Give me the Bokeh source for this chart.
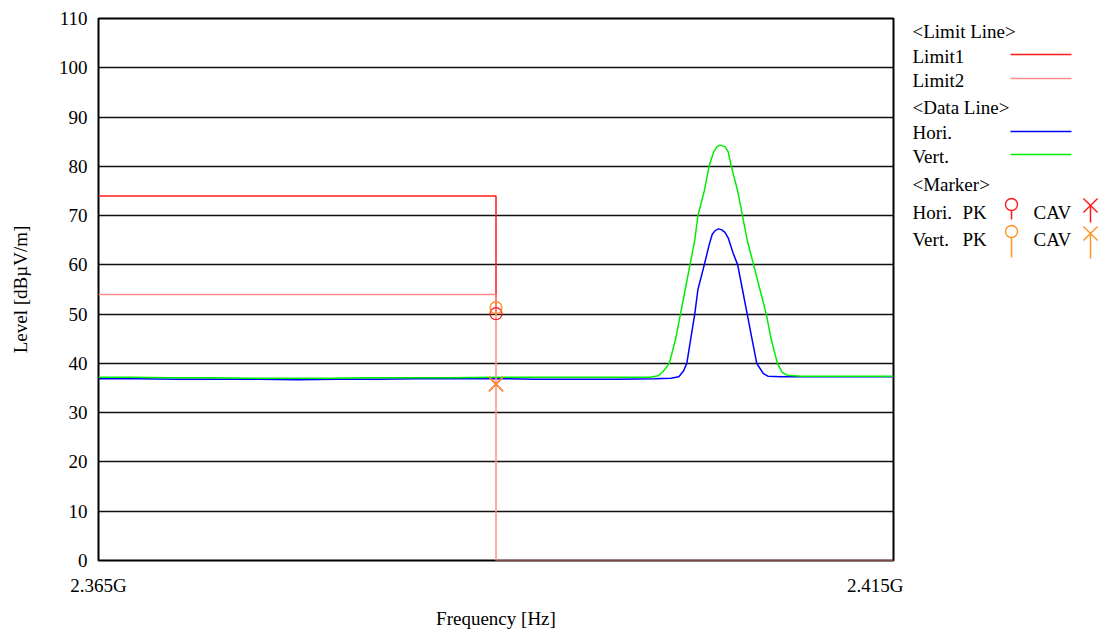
from bokeh.plotting import figure
from bokeh.layouts import row
from bokeh.models import FixedTicker, Range1d
from bokeh.core.properties import value
from bokeh.embed import file_html
from bokeh.resources import INLINE

# ---------------- data ----------------
y_ticks = [0, 10, 20, 30, 40, 50, 60, 70, 80, 90, 100, 110]
x_ticks = [2365, 2415]
x_tick_labels = ["2.365G", "2.415G"]

limit1_freq = [2365.0, 2390.0, 2390.0]
limit1_level = [74.0, 74.0, 50.0]
limit2_freq = [2365.0, 2390.0, 2390.0, 2415.0]
limit2_level = [54.0, 54.0, 0.0, 0.0]

vert_freq = [2365.0, 2367.0, 2369.5, 2372.0, 2374.6, 2377.0, 2379.5, 2382.0, 2384.5, 2387.1,
             2390.0, 2392.5, 2395.0, 2397.5, 2399.7, 2400.2, 2400.5, 2400.9, 2401.3, 2401.6,
             2401.9, 2402.2, 2402.5, 2402.7, 2403.1, 2403.4, 2403.7, 2403.9, 2404.1, 2404.4,
             2404.6, 2404.8, 2405.2, 2405.5, 2405.8, 2406.2, 2406.6, 2407.0, 2407.3, 2407.7,
             2408.0, 2408.3, 2409.2, 2410.5, 2412.3, 2413.7, 2415.0]
vert_level = [37.2, 37.2, 37.1, 37.1, 37.0, 37.0, 37.0, 37.1, 37.1, 37.1,
              37.2, 37.2, 37.2, 37.2, 37.2, 37.5, 38.3, 40.0, 45.0, 50.0,
              55.0, 60.0, 65.0, 70.0, 75.0, 80.0, 83.0, 84.0, 84.3, 84.0,
              83.0, 80.0, 75.0, 70.0, 65.0, 60.0, 55.0, 50.0, 45.0, 40.0,
              38.2, 37.6, 37.4, 37.4, 37.4, 37.4, 37.4]

hori_freq = [2365.0, 2367.5, 2370.0, 2372.5, 2375.0, 2377.5, 2380.0, 2382.5, 2385.0, 2387.5,
             2390.0, 2392.5, 2395.0, 2397.5, 2400.0, 2401.0, 2401.5, 2401.8, 2402.0, 2402.2,
             2402.5, 2402.7, 2403.1, 2403.4, 2403.6, 2403.8, 2404.0, 2404.2, 2404.4, 2404.6,
             2404.9, 2405.2, 2405.5, 2405.8, 2406.1, 2406.4, 2406.8, 2407.1, 2407.9, 2409.0,
             2411.0, 2413.0, 2415.0]
hori_level = [36.9, 36.9, 36.8, 36.8, 36.8, 36.7, 36.8, 36.8, 36.9, 36.9,
              36.9, 36.8, 36.8, 36.8, 36.9, 37.0, 37.3, 38.5, 40.0, 44.0,
              50.0, 55.0, 60.0, 64.0, 66.2, 67.0, 67.3, 67.1, 66.6, 65.5,
              62.5, 60.0, 55.0, 50.0, 45.0, 40.0, 38.0, 37.4, 37.3, 37.3,
              37.3, 37.3, 37.3]

marker_freq = 2390.0
hori_pk = 50.1
vert_pk = 51.3
hori_cav = 35.8
vert_cav = 35.8

RED = "#ff1a1a"
PINK = "#ff8c8c"
BLUE = "#0000ff"
GREEN = "#00ee00"
ORANGE = "#ff9224"
FONT = "Liberation Serif"
FS = "19px"

# ---------------- main plot ----------------
p = figure(frame_width=795, frame_height=542, output_backend="svg", toolbar_location=None,
           x_range=Range1d(2365, 2415), y_range=Range1d(0, 110), title=None,
           min_border_left=98, min_border_right=10, min_border_top=18, min_border_bottom=70)
p.background_fill_color = "white"
p.border_fill_color = "white"
p.outline_line_color = "black"
p.outline_line_width = 2

p.xgrid.visible = False
p.ygrid.ticker = FixedTicker(ticks=y_ticks)
p.ygrid.grid_line_color = "#111111"
p.ygrid.grid_line_width = 1.6

p.yaxis.ticker = FixedTicker(ticks=y_ticks)
p.xaxis.ticker = FixedTicker(ticks=x_ticks)
p.xaxis.major_label_overrides = {t: l for t, l in zip(x_ticks, x_tick_labels)}
for ax in (p.xaxis[0], p.yaxis[0]):
    ax.axis_line_color = None
    ax.major_tick_line_color = None
    ax.minor_tick_line_color = None
    ax.major_label_text_font = FONT
    ax.major_label_text_font_size = FS
    ax.major_label_text_color = "black"
    ax.axis_label_text_font = FONT
    ax.axis_label_text_font_size = FS
    ax.axis_label_text_font_style = "normal"
    ax.axis_label_text_color = "black"
p.xaxis.axis_label = "Frequency [Hz]"
p.yaxis.axis_label = "Level [dBµV/m]"
p.xaxis.major_label_standoff = 8
p.xaxis.axis_label_standoff = 9
p.yaxis.major_label_standoff = 5
p.yaxis.axis_label_standoff = 25

p.line(hori_freq, hori_level, line_color=BLUE, line_width=1.5)
p.line(vert_freq, vert_level, line_color=GREEN, line_width=1.5)
p.line(limit1_freq, limit1_level, line_color=RED, line_width=1.5)
p.line(limit2_freq, limit2_level, line_color=PINK, line_width=1.5)

p.scatter([marker_freq], [hori_cav], marker="x", size=20, line_color=RED, line_width=1.3)
p.scatter([marker_freq], [vert_cav], marker="x", size=20, line_color=ORANGE, line_width=1.3)
p.scatter([marker_freq], [hori_pk], marker="circle", size=12, fill_color=None,
          line_color=RED, line_width=1.3)
p.scatter([marker_freq], [vert_pk], marker="circle", size=12, fill_color=None,
          line_color=ORANGE, line_width=1.3)

# ---------------- legend panel (page pixel coordinates) ----------------
leg = figure(frame_width=210, frame_height=542, output_backend="svg", toolbar_location=None,
             x_range=Range1d(903, 1113), y_range=Range1d(560, 18), title=None,
             x_axis_type=None, y_axis_type=None,
             min_border_left=0, min_border_right=0, min_border_top=18, min_border_bottom=70)
leg.outline_line_color = None
leg.xgrid.visible = False
leg.ygrid.visible = False
leg.background_fill_color = "white"
leg.border_fill_color = "white"

leg_texts = ["<Limit Line>", "Limit1", "Limit2", "<Data Line>", "Hori.", "Vert.",
             "<Marker>", "Hori.", "Vert."]
leg_text_y = [31, 56, 80, 107, 132, 156, 184, 212, 239]
leg.text([912] * len(leg_texts), leg_text_y, text=leg_texts, text_font=value(FONT),
         text_font_size=FS, text_color="black", text_baseline="middle", text_align="left")
leg.text([962, 962, 1033, 1033], [212, 239, 212, 239], text=["PK", "PK", "CAV", "CAV"],
         text_font=value(FONT), text_font_size=FS, text_color="black",
         text_baseline="middle", text_align="left")

leg.segment([1010, 1010, 1010, 1010], [54, 78, 131, 154], [1071, 1071, 1071, 1071],
            [54, 78, 131, 154], line_color=[RED, PINK, BLUE, GREEN], line_width=1.5)

# marker samples with stems
leg.segment([1011, 1011, 1090, 1090], [210, 237, 205, 233], [1011, 1011, 1090, 1090],
            [219, 257, 222, 258], line_color=[RED, ORANGE, RED, ORANGE], line_width=1.5)
leg.scatter([1011, 1011], [204, 231], marker="circle", size=12, fill_color=None,
            line_color=[RED, ORANGE], line_width=1.4)
leg.scatter([1090, 1090], [205, 233], marker="x", size=20,
            line_color=[RED, ORANGE], line_width=1.4)

layout = row(p, leg)
open("out.html", "w").write(file_html(layout, INLINE))
